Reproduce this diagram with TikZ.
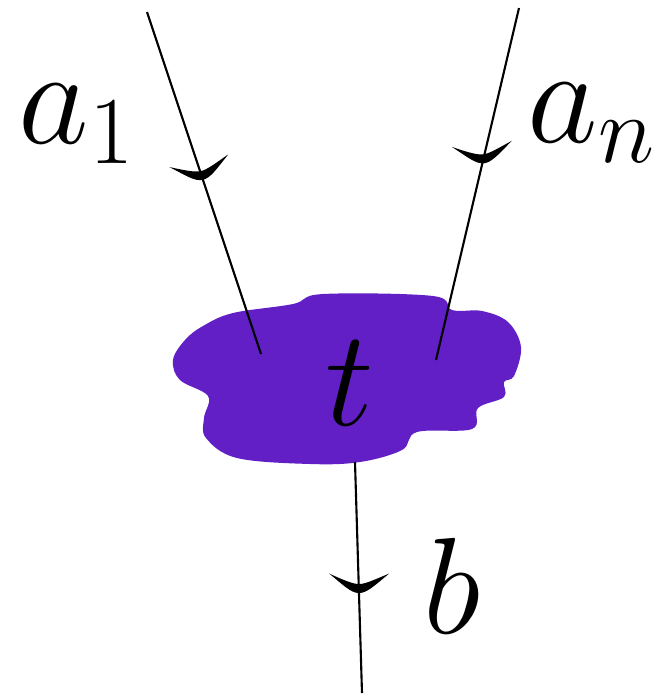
\RequirePackage{fix-cm}
\documentclass[tikz,border=0pt]{standalone}
\usepackage{amsmath,amssymb}
\usepackage{tikz}
\usetikzlibrary{decorations.markings}
\definecolor{blobviolet}{RGB}{98,31,197}
\tikzset{
  lbl/.style={anchor=base west,inner sep=0pt,font=\fontsize{39}{47}\selectfont},
  wire/.style={line width=0.6pt},
  tipat/.style 2 args={postaction={decorate,decoration={markings,mark=at position #1 with {%
    \pgftransformresetnontranslations\pgftransformrotate{#2}%
    \fill (-0.3cm,0.15cm) .. controls (-0.16cm,0.04cm) and (-0.08cm,-0.04cm) .. (0cm,-0.04cm)
      .. controls (0.08cm,-0.04cm) and (0.16cm,0.04cm) .. (0.3cm,0.16cm)
      .. controls (0.14cm,0.09cm) and (0.06cm,0.05cm) .. (0cm,0.05cm)
      .. controls (-0.06cm,0.05cm) and (-0.14cm,0.08cm) .. cycle;}}}},
}
\begin{document}
\begin{tikzpicture}[x=0.01cm,y=-0.01cm]
\useasboundingbox (0,0) rectangle (662,696);
% the blob
\fill[blobviolet] plot[smooth cycle,tension=0.6] coordinates {
 (173,360) (185,340) (203,326) (233,313) (293,304) (323,294) (433,296) (452,310)
 (482,311) (508,322) (521,347) (514,376) (504,382) (504,397) (478,408) (472,429)
 (417,432) (402,450) (360,462) (310,464) (237,458) (206,438) (204,418) (208,396) (180,380)};
\node[lbl] (t) at (325,425) {$t$};
% wires
\coordinate (s1) at (147,12);  \coordinate (e1) at (261,354);
\coordinate (sn) at (519,8);   \coordinate (en) at (436,360);
\coordinate (sb) at (355,462); \coordinate (eb) at (362,693);
\draw[wire,tipat={0.48}{11}] (s1) -- (e1);
\draw[wire,tipat={0.43}{5}] (sn) -- (en);
\draw[wire,tipat={0.55}{-1}] (sb) -- (eb);
% labels
\node[lbl] (a1) at (18,143) {$a_1$};
\node[lbl] (an) at (527,142) {$a_n$};
\node[lbl] (b) at (423,633) {$b$};
\end{tikzpicture}
\end{document}
